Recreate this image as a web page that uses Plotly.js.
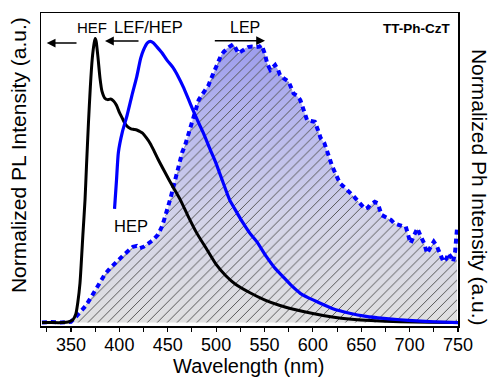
<!DOCTYPE html>
<html>
<head>
<meta charset="utf-8">
<script src="https://cdn.plot.ly/plotly-3.0.1.min.js"></script>
<style>html,body{margin:0;padding:0;background:#fff;}#chart{width:491px;height:378px;}</style>
</head>
<body>
<div id="chart"></div>
<script>
// HEF photoluminescence (black)
const hefWl  = [320,330,340,348,352,355,357,359.3,362.4,364.5,366,368,370,372,374,375,376,378,380,382,385,388,391,394,397,400,403,406,409,412,415,418,421,424,428,432,436,440,447,455,463,471,480,490,500,510,520,535,550,566,580,600,620,640,660,690,720,750];
const hefVal = [0,0,0,0.003,0.01,0.03,0.07,0.139,0.315,0.432,0.55,0.70,0.83,0.93,0.985,1.0,0.99,0.93,0.86,0.815,0.79,0.785,0.787,0.78,0.765,0.74,0.72,0.70,0.688,0.682,0.68,0.678,0.673,0.667,0.65,0.63,0.603,0.575,0.53,0.48,0.432,0.375,0.315,0.26,0.205,0.165,0.135,0.105,0.08,0.06,0.047,0.032,0.02,0.012,0.007,0.003,0.001,0];

// LEF/HEP photoluminescence (blue solid)
const lefWl  = [395,397,399,403,408,413,418,422,425,429,432,435,439,444,449,456,461,466,471,476,481,487,494,500,507,514,521,528,535,542,552,560,569,578,587,595,604,620,638,655,673,690,707,725,750];
const lefVal = [0.40,0.50,0.60,0.67,0.73,0.80,0.866,0.93,0.96,0.985,0.99,0.985,0.97,0.95,0.925,0.895,0.865,0.83,0.79,0.749,0.71,0.666,0.608,0.56,0.495,0.432,0.39,0.35,0.314,0.285,0.232,0.195,0.162,0.13,0.103,0.088,0.074,0.05,0.033,0.022,0.015,0.01,0.006,0.003,0];

// LEP phosphorescence (blue dotted, filled)
const lepWl  = [320,330,340,350,355,360,365,370,375,380,385,390,395,399,405,410,414,418,421,425,430,435,440,444,447,450,453,456,459,462,465,468,472,476,479,482,485,488,492,495,499,502,505,508,511,514,518,521,523,526,530,533,537,541,545,547,550,553,556,559,561,564,566,570,575,580,583,587,590,594,598,602,605,608,612,616,620,624,628,633,638,642,646,650,654,657,659,664,667,671,676,681,684,688,692,696,699,701,705,708,712,715,718,721,725,728,730,733,735,738,740,743,745,747,749];
const lepVal = [0,0.002,0,0.003,0.02,0.04,0.058,0.085,0.115,0.144,0.17,0.19,0.205,0.22,0.24,0.255,0.267,0.27,0.262,0.267,0.278,0.291,0.31,0.338,0.37,0.40,0.44,0.48,0.52,0.56,0.60,0.625,0.67,0.719,0.75,0.784,0.80,0.813,0.835,0.86,0.89,0.919,0.94,0.954,0.965,0.972,0.98,0.96,0.948,0.955,0.966,0.97,0.972,0.97,0.972,0.977,0.95,0.91,0.89,0.90,0.907,0.89,0.872,0.86,0.848,0.807,0.80,0.784,0.75,0.713,0.71,0.707,0.68,0.65,0.631,0.59,0.55,0.52,0.49,0.475,0.46,0.445,0.43,0.415,0.40,0.405,0.414,0.425,0.42,0.379,0.37,0.361,0.35,0.344,0.34,0.338,0.30,0.279,0.31,0.332,0.30,0.279,0.244,0.26,0.285,0.27,0.25,0.23,0.214,0.225,0.244,0.23,0.214,0.25,0.332];

const xTickVals = [350,400,450,500,550,600,650,700,750];
const FONT = 'Liberation Sans, Arial, sans-serif';

const traces = [
  { x: lepWl, y: lepVal, type: 'scatter', mode: 'lines', fill: 'tozeroy',
    line: {width: 0, color: 'rgba(0,0,0,0)'},
    fillgradient: {type: 'vertical', start: 0, stop: 1,
      colorscale: [[0,'#e0e0e0'],[0.35,'#d4d4e8'],[0.7,'#b8b8ee'],[1,'#9a9aee']]},
    hoverinfo: 'skip', showlegend: false },
  { x: lepWl, y: lepVal, type: 'scatter', mode: 'lines', fill: 'tozeroy',
    fillcolor: 'rgba(0,0,0,0)',
    fillpattern: {shape: '/', size: 7, solidity: 0.14, fgcolor: '#555555', bgcolor: 'rgba(0,0,0,0)'},
    line: {width: 4, color: '#0000ff', dash: '5px,4px'},
    showlegend: false },
  { x: hefWl, y: hefVal, type: 'scatter', mode: 'lines',
    line: {width: 3, color: '#000000', shape: 'spline', smoothing: 0.6}, showlegend: false },
  { x: lefWl, y: lefVal, type: 'scatter', mode: 'lines',
    line: {width: 3.2, color: '#0000ff', shape: 'spline', smoothing: 0.6}, showlegend: false }
];

function arrow(x, y, ax) {
  return {xref: 'paper', yref: 'paper', x: x, y: y, ax: ax, ay: 0, text: '',
    showarrow: true, arrowhead: 2, arrowsize: 1.1, arrowwidth: 1.6, arrowcolor: '#000'};
}
function label(text, x, y, anchor, size, bold) {
  return {xref: 'paper', yref: 'paper', x: x, y: y, xanchor: anchor, yanchor: 'middle',
    text: bold ? '<b>' + text + '</b>' : text, showarrow: false,
    font: {family: FONT, size: size, color: '#000'}};
}

const layout = {
  width: 491, height: 378,
  margin: {l: 41, r: 33, t: 13, b: 52},
  paper_bgcolor: '#ffffff', plot_bgcolor: '#ffffff',
  showlegend: false,
  xaxis: {
    range: [319, 750], tickvals: xTickVals, ticktext: xTickVals.map(String),
    ticks: 'outside', ticklen: 4, tickwidth: 1.2, tickcolor: '#000',
    ticklabelstandoff: -2,
    minor: {dtick: 25, tick0: 0, ticks: 'outside', ticklen: 4, tickwidth: 1, tickcolor: '#000', showgrid: false},
    showline: true, linewidth: 1.5, linecolor: '#000', mirror: true,
    showgrid: false, zeroline: false,
    tickfont: {family: FONT, size: 18, color: '#000'}
  },
  yaxis: {
    range: [-0.012, 1.09], showticklabels: false, ticks: '',
    showline: true, linewidth: 1.5, linecolor: '#000', mirror: true,
    showgrid: false, zeroline: false
  },
  annotations: [
    {xref: 'paper', yref: 'paper', x: 0.4988, y: -0.129, xanchor: 'center', yanchor: 'middle',
     text: 'Wavelength (nm)', showarrow: false, font: {family: FONT, size: 20, color: '#000'}},
    {xref: 'paper', yref: 'paper', x: -0.0552, y: 0.546, xanchor: 'center', yanchor: 'middle', textangle: -90,
     text: 'Normalized PL Intensity (a.u.)', showarrow: false, font: {family: FONT, size: 21, color: '#000'}},
    {xref: 'paper', yref: 'paper', x: 1.053, y: 0.444, xanchor: 'center', yanchor: 'middle', textangle: 90,
     text: 'Normalized Ph Intensity (a.u.)', showarrow: false, font: {family: FONT, size: 21, color: '#000'}},
    label('HEF', 0.0815, 0.955, 'left', 15),
    label('LEF/HEP', 0.1695, 0.955, 'left', 16.5),
    label('LEP', 0.4485, 0.954, 'left', 16),
    label('HEP', 0.1695, 0.321, 'left', 16.5),
    label('TT-Ph-CzT', 0.9856, 0.951, 'right', 13.5, true),
    arrow(0.0137, 0.904, 31.3),
    arrow(0.1535, 0.9105, 35),
    arrow(0.5372, 0.9115, -51.7)
  ]
};

Plotly.newPlot('chart', traces, layout, {displayModeBar: false, staticPlot: true});
</script>
</body>
</html>
